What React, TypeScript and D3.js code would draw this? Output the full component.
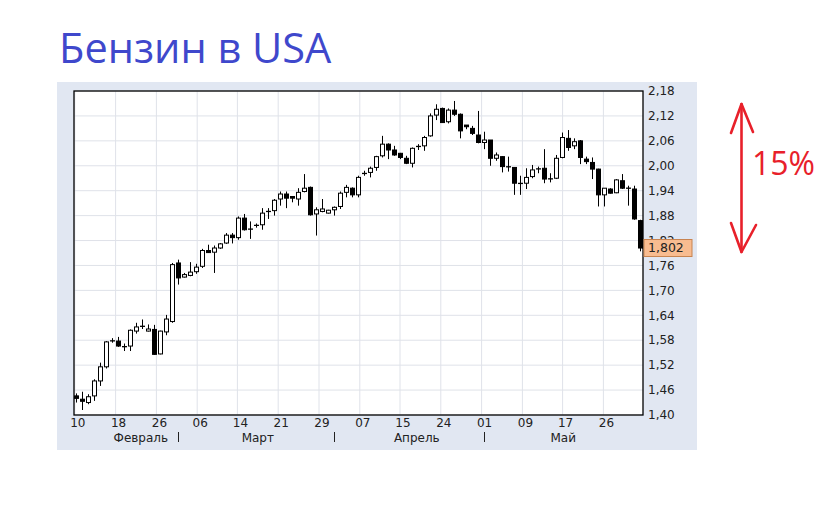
import React from "react";
import * as d3 from "d3";

// OHLC per trading day (10 Feb .. 31 May)
const opens = [
  1.446, 1.438, 1.430, 1.446, 1.482, 1.516, 1.578, 1.578, 1.565, 1.566,
  1.602, 1.615, 1.602, 1.606, 1.547, 1.600, 1.625, 1.766, 1.732, 1.736,
  1.745, 1.758, 1.796, 1.792, 1.802, 1.814, 1.833, 1.827, 1.874, 1.848,
  1.856, 1.858, 1.891, 1.892, 1.920, 1.932, 1.926, 1.920, 1.938, 1.948,
  1.884, 1.890, 1.886, 1.894, 1.902, 1.936, 1.946, 1.930, 1.981, 1.984,
  1.996, 2.024, 2.052, 2.038, 2.030, 2.018, 2.006, 2.046, 2.048, 2.072,
  2.122, 2.138, 2.106, 2.134, 2.124, 2.098, 2.090, 2.074, 2.056, 2.062,
  2.018, 2.022, 1.998, 1.996, 1.957, 1.958, 1.974, 1.994, 1.994, 1.968,
  1.970, 2.020, 2.066, 2.048, 2.060, 2.016, 2.008, 1.992, 1.930, 1.944,
  1.935, 1.964, 1.946, 1.944, 1.868,
];
const highs = [
  1.452, 1.456, 1.450, 1.486, 1.526, 1.578, 1.585, 1.588, 1.572, 1.606,
  1.622, 1.630, 1.618, 1.617, 1.603, 1.641, 1.766, 1.774, 1.742, 1.768,
  1.764, 1.800, 1.810, 1.808, 1.814, 1.838, 1.838, 1.878, 1.884, 1.866,
  1.861, 1.898, 1.898, 1.920, 1.938, 1.938, 1.927, 1.946, 1.980, 1.950,
  1.900, 1.920, 1.894, 1.902, 1.938, 1.954, 1.948, 1.976, 1.988, 1.998,
  2.024, 2.072, 2.054, 2.048, 2.031, 2.024, 2.044, 2.052, 2.072, 2.126,
  2.148, 2.140, 2.138, 2.156, 2.126, 2.098, 2.096, 2.132, 2.082, 2.062,
  2.032, 2.023, 2.022, 1.997, 1.976, 1.994, 2.002, 1.998, 2.040, 1.982,
  2.026, 2.080, 2.086, 2.066, 2.062, 2.022, 2.020, 1.993, 1.946, 1.946,
  1.968, 1.980, 1.952, 1.952, 1.870,
];
const lows = [
  1.430, 1.412, 1.426, 1.434, 1.470, 1.512, 1.574, 1.564, 1.554, 1.554,
  1.596, 1.607, 1.601, 1.545, 1.546, 1.592, 1.622, 1.714, 1.731, 1.734,
  1.740, 1.754, 1.790, 1.742, 1.800, 1.812, 1.813, 1.822, 1.844, 1.824,
  1.851, 1.846, 1.872, 1.880, 1.904, 1.898, 1.912, 1.904, 1.936, 1.880,
  1.832, 1.888, 1.885, 1.880, 1.896, 1.924, 1.924, 1.924, 1.976, 1.972,
  1.988, 2.020, 2.016, 2.024, 2.016, 2.004, 1.996, 2.038, 2.036, 2.070,
  2.110, 2.103, 2.102, 2.120, 2.066, 2.088, 2.074, 2.054, 2.040, 2.000,
  2.012, 1.984, 1.986, 1.930, 1.930, 1.944, 1.970, 1.982, 1.958, 1.960,
  1.968, 2.018, 2.036, 2.040, 2.004, 2.004, 1.968, 1.902, 1.902, 1.933,
  1.934, 1.944, 1.904, 1.870, 1.794,
];
const closes = [
  1.440, 1.433, 1.444, 1.482, 1.516, 1.576, 1.579, 1.566, 1.564, 1.604,
  1.612, 1.612, 1.607, 1.546, 1.602, 1.631, 1.762, 1.730, 1.738, 1.744,
  1.756, 1.796, 1.791, 1.802, 1.812, 1.833, 1.827, 1.874, 1.846, 1.847,
  1.857, 1.886, 1.889, 1.917, 1.932, 1.922, 1.922, 1.936, 1.946, 1.882,
  1.894, 1.896, 1.893, 1.900, 1.934, 1.948, 1.930, 1.972, 1.982, 1.994,
  2.022, 2.052, 2.038, 2.026, 2.020, 2.006, 2.042, 2.047, 2.068, 2.120,
  2.136, 2.104, 2.134, 2.124, 2.084, 2.094, 2.078, 2.056, 2.062, 2.018,
  2.026, 1.998, 1.997, 1.958, 1.958, 1.972, 1.990, 1.991, 1.968, 1.969,
  2.018, 2.068, 2.044, 2.058, 2.020, 2.010, 1.992, 1.930, 1.946, 1.934,
  1.966, 1.946, 1.946, 1.872, 1.802,
];

const yTicks = [1.40, 1.46, 1.52, 1.58, 1.64, 1.70, 1.76, 1.82, 1.88, 1.94, 2.00, 2.06, 2.12, 2.18];
// grid positions in candle-index units, with day labels
const xTickPos = [-0.2, 6.6, 13.4, 20.2, 26.9, 33.7, 40.5, 47.3, 54.0, 60.8, 67.6, 74.4, 81.1, 87.9];
const xTickLabels = ["10", "18", "26", "06", "14", "21", "29", "07", "15", "24", "01", "09", "17", "26"];
const months = ["Февраль", "Март", "Апрель", "Май"];
const monthPos = [10.8, 30.3, 56.8, 81.2];
const monthStarts = [17, 43, 68];

const lastPrice = "1,802";

const fmt = (v: number) => v.toFixed(2).replace(".", ",");

export default function App() {
  const W = 828, H = 514;
  const plot = { left: 74, top: 91, right: 643, bottom: 415 };

  const x = d3.scaleLinear().domain([0, opens.length - 1]).range([76, 640]);
  const y = d3.scaleLinear().domain([1.40, 2.18]).range([plot.bottom, plot.top]);

  const red = "#e8202a";
  const axisFont = "'DejaVu Sans', Verdana, sans-serif";
  const lastY = y(closes[closes.length - 1]);

  return (
    <svg width={W} height={H} style={{ position: "absolute", left: 0, top: 0, background: "#fff" }}>
      <text x={59} y={63} fontFamily="'Open Sans', 'Noto Sans', sans-serif" fontSize={41.5} fill="#3f48cc">
        Бензин в USA
      </text>

      <rect x={57} y={82} width={640} height={368} fill="#e1e7f2" />
      <rect x={plot.left} y={plot.top} width={plot.right - plot.left} height={plot.bottom - plot.top} fill="#fff" />

      {yTicks.map((t) => (
        <line key={"gy" + t} x1={plot.left} x2={plot.right} y1={y(t)} y2={y(t)} stroke="#dfe2e9" strokeWidth={1} />
      ))}
      {xTickPos.map((p, i) => (
        <line key={"gx" + i} x1={x(p)} x2={x(p)} y1={plot.top} y2={plot.bottom} stroke="#dfe2e9" strokeWidth={1} />
      ))}

      {opens.map((o, i) => {
        const c = closes[i];
        const up = c >= o;
        const cx = Math.round(x(i)) + 0.5;
        const top = y(Math.max(o, c));
        const bot = y(Math.min(o, c));
        const h = bot - top;
        return (
          <g key={"c" + i}>
            <line x1={cx} x2={cx} y1={y(highs[i])} y2={y(lows[i])} stroke="#000" strokeWidth={1} />
            {h < 1.5 ? (
              <line x1={cx - 2.5} x2={cx + 2.5} y1={(top + bot) / 2} y2={(top + bot) / 2} stroke="#000" strokeWidth={1.3} />
            ) : (
              <rect x={cx - 2} y={top} width={4} height={h} fill={up ? "#fff" : "#000"} stroke="#000" strokeWidth={1} />
            )}
          </g>
        );
      })}

      <rect x={plot.left} y={plot.top} width={plot.right - plot.left} height={plot.bottom - plot.top} fill="none" stroke="#000" strokeWidth={1.3} />

      {yTicks.map((t) => (
        <text key={"ly" + t} x={648} y={y(t)} dy="0.35em" fontFamily={axisFont} fontSize={12} fill="#222">
          {fmt(t)}
        </text>
      ))}

      <line x1={x(closes.length - 1) + 2} x2={plot.right} y1={lastY} y2={lastY} stroke="#000" strokeWidth={1} />
      <rect x={644} y={lastY - 8.5} width={48} height={17} fill="#f8bc90" stroke="#c8834f" strokeWidth={1} />
      <text x={648} y={lastY} dy="0.35em" fontFamily={axisFont} fontSize={12.5} fill="#222">
        {lastPrice}
      </text>

      {xTickPos.map((p, i) => (
        <text key={"lx" + i} x={x(p) + 3} y={423} dy="0.35em" textAnchor="middle" fontFamily={axisFont} fontSize={12} fill="#222">
          {xTickLabels[i]}
        </text>
      ))}
      {months.map((m, i) => (
        <text key={"m" + i} x={x(monthPos[i])} y={437.5} dy="0.35em" textAnchor="middle" fontFamily={axisFont} fontSize={12} fill="#222">
          {m}
        </text>
      ))}
      {monthStarts.map((s) => (
        <line key={"ms" + s} x1={x(s) + 0.5} x2={x(s) + 0.5} y1={432} y2={442} stroke="#222" strokeWidth={1} />
      ))}

      <g stroke={red} strokeWidth={2.6} fill="none" strokeLinecap="round" strokeLinejoin="round">
        <line x1={741.5} y1={104} x2={741.5} y2={252} />
        <polyline points="731,133 741.5,104 753,132" />
        <polyline points="731,223 741.5,252 756,225" />
      </g>
      <text x={752} y={175} fontFamily="'Open Sans', 'Noto Sans', sans-serif" fontSize={32} fill={red}>
        15%
      </text>
    </svg>
  );
}
